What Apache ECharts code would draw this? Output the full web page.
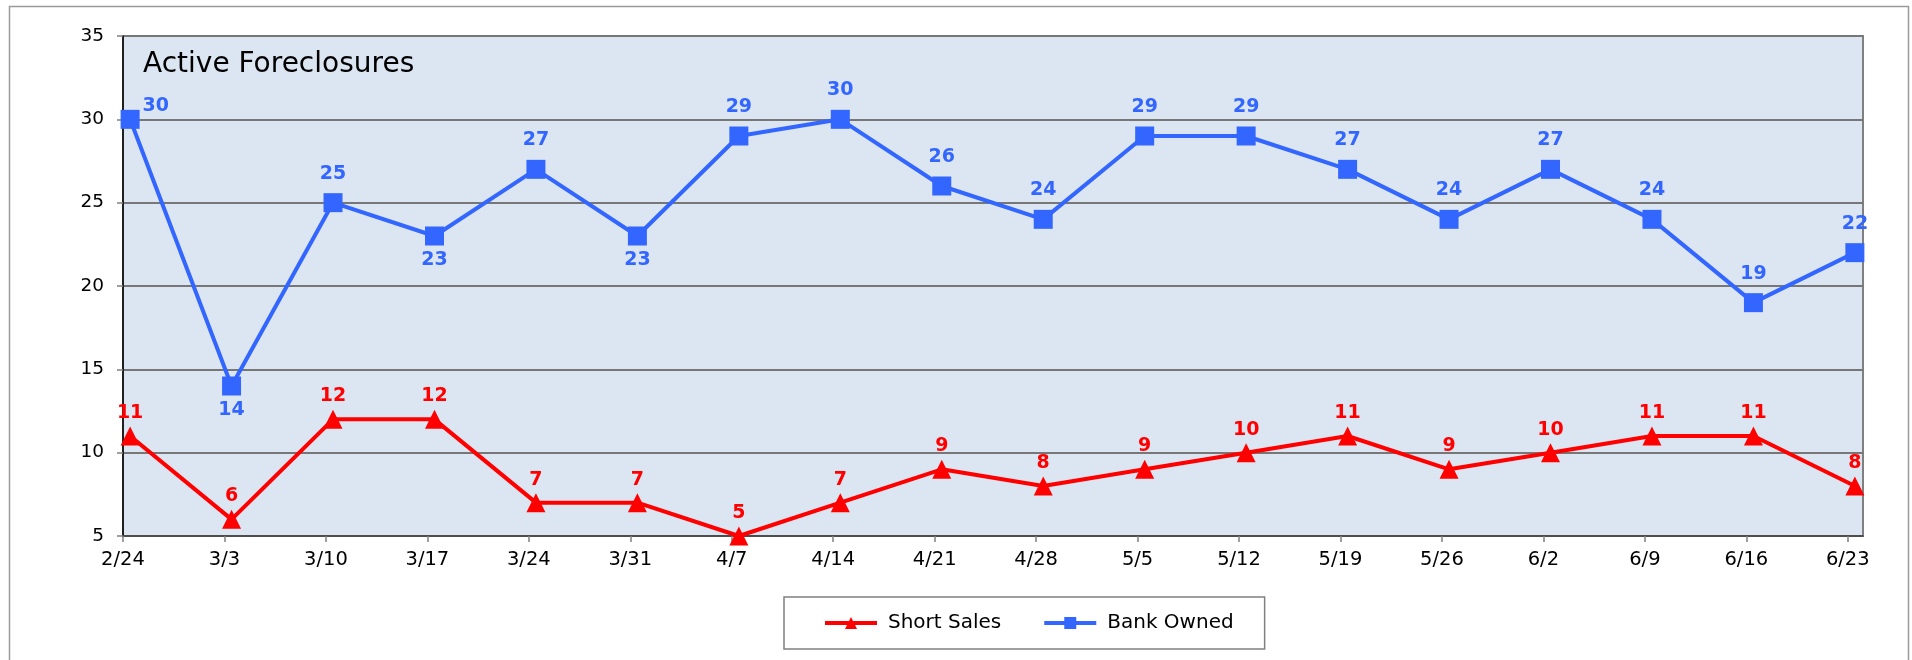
<!DOCTYPE html>
<html>
<head>
<meta charset="utf-8">
<script src="https://cdn.jsdelivr.net/npm/echarts@6/dist/echarts.min.js"></script>
<style>
html,body{margin:0;padding:0;background:#fff;}
#chart{width:1912px;height:660px;}
</style>
</head>
<body>
<div id="chart"></div>
<script>
const categories = ['2/24','3/3','3/10','3/17','3/24','3/31','4/7','4/14','4/21','4/28','5/5','5/12','5/19','5/26','6/2','6/9','6/16','6/23'];
const shortSales = [11,6,12,12,7,7,5,7,9,8,9,10,11,9,10,11,11,8];
const bankOwned = [30,14,25,23,27,23,29,30,26,24,29,29,27,24,27,24,19,22];
const bankBelow = ['3/3','3/17','3/31'];
const yTicks = [5,10,15,20,25,30,35];

const FONT = 'DejaVu Sans';
const BLUE = '#3366ff';
const RED = '#ff0000';

const idx = categories.map((c, i) => i);

const blueData = bankOwned.map((v, i) => {
  const d = { value: [i, v] };
  if (i === 0) {
    d.label = { position: 'right', distance: 3, offset: [0, -13] };
  } else if (bankBelow.includes(categories[i])) {
    d.label = { position: 'bottom', distance: 5 };
  }
  return d;
});
const redData = shortSales.map((v, i) => ({ value: [i, v] }));

const chart = echarts.init(document.getElementById('chart'));
chart.setOption({
  animation: false,
  textStyle: { fontFamily: FONT },
  title: {
    text: 'Active Foreclosures',
    left: 143, top: 51, padding: 0,
    textStyle: { fontFamily: FONT, fontSize: 28, fontWeight: 'normal', color: '#000' }
  },
  graphic: [{
    type: 'rect', left: 7, top: 4, silent: true,
    shape: { width: 1899, height: 700 },
    style: { fill: 'none', stroke: '#9a9a9a', lineWidth: 1.5 }
  }],
  legend: {
    data: ['Short Sales', 'Bank Owned'],
    left: 784, top: 597,
    padding: [16, 31, 16, 39],
    borderColor: '#808080', borderWidth: 1.5,
    itemWidth: 52, itemHeight: 15, itemGap: 41,
    lineStyle: { width: 4 },
    textStyle: { fontFamily: FONT, fontSize: 20, color: '#000', padding: [0, 0, 0, 6] }
  },
  grid: {
    left: 123, top: 36, width: 1740, height: 500,
    show: true, backgroundColor: '#dce6f2',
    borderColor: '#808080', borderWidth: 2,
    outerBoundsMode: 'none', containLabel: false
  },
  xAxis: [{
    type: 'value', min: 0, max: 17.15, interval: 1,
    axisLine: { show: true, onZero: false, lineStyle: { color: '#404040', width: 1.5 } },
    axisTick: { show: true, length: 6, customValues: idx, lineStyle: { color: '#808080', width: 1.5 } },
    axisLabel: {
      customValues: idx, margin: 14,
      formatter: v => categories[Math.round(v)] || '',
      fontFamily: FONT, fontSize: 19.5, color: '#000'
    },
    splitLine: { show: false }
  }, {
    type: 'value', min: -0.07, max: 17.08, show: false,
    splitLine: { show: false }
  }],
  yAxis: {
    type: 'value', min: 5, max: 35, interval: 5,
    axisLine: { show: true, lineStyle: { color: '#000', width: 1.5 } },
    axisTick: { show: true, length: 6, lineStyle: { color: '#808080', width: 1.5 } },
    axisLabel: {
      margin: 19, fontFamily: FONT, fontSize: 18.5, color: '#000',
      formatter: v => yTicks.includes(v) ? String(v) : ''
    },
    splitLine: { show: true, lineStyle: { color: '#777777', width: 1.8 } }
  },
  series: [{
    name: 'Short Sales', type: 'line', xAxisIndex: 1,
    data: redData,
    symbol: 'triangle', symbolSize: 19,
    itemStyle: { color: RED },
    lineStyle: { color: RED, width: 4 },
    label: {
      show: true, position: 'top', distance: 4,
      formatter: p => p.value[1],
      color: RED, fontFamily: FONT, fontSize: 19, fontWeight: 'bold'
    },
    z: 3
  }, {
    name: 'Bank Owned', type: 'line', xAxisIndex: 1,
    data: blueData,
    symbol: 'rect', symbolSize: 19,
    itemStyle: { color: BLUE },
    lineStyle: { color: BLUE, width: 4 },
    label: {
      show: true, position: 'top', distance: 10,
      formatter: p => p.value[1],
      color: BLUE, fontFamily: FONT, fontSize: 19, fontWeight: 'bold'
    },
    z: 4
  }]
});
</script>
</body>
</html>
